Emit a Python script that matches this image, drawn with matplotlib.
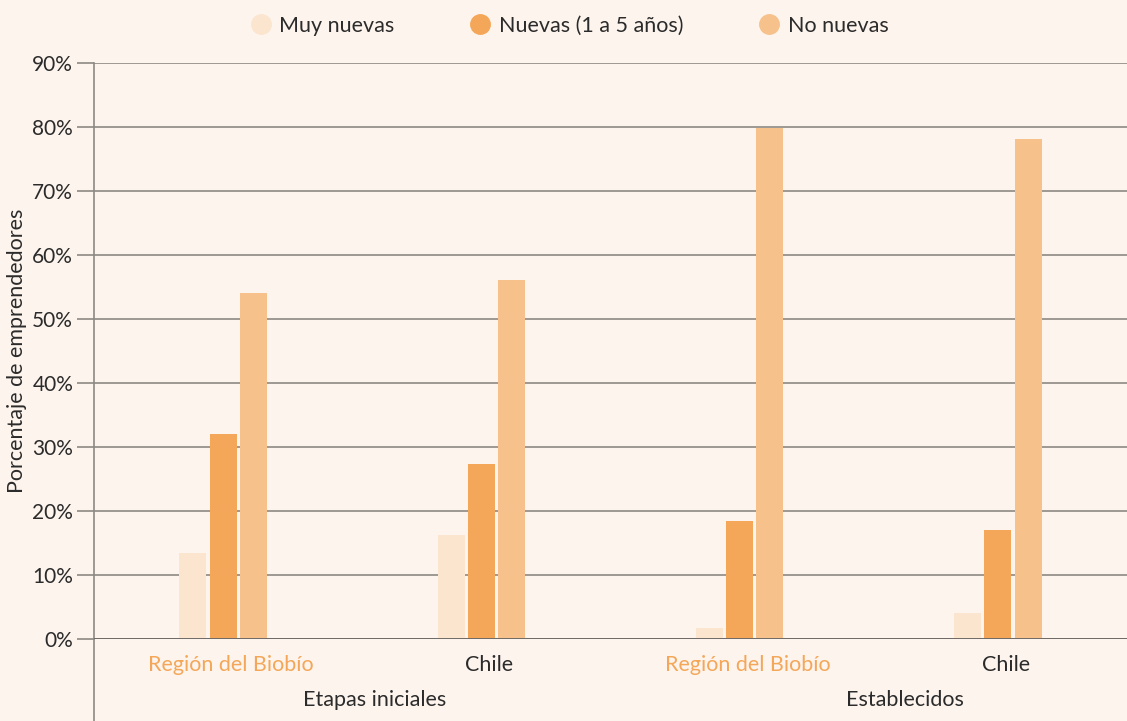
import numpy as np
import matplotlib.pyplot as plt
from matplotlib.lines import Line2D

plt.rcParams['font.family'] = ['Lato', 'DejaVu Sans']

# data
places = ["Región del Biobío", "Chile", "Región del Biobío", "Chile"]
stages = ["Etapas iniciales", "Establecidos"]
series = ["Muy nuevas", "Nuevas (1 a 5 años)", "No nuevas"]
muy_nuevas = [13.4, 16.3, 1.7, 4.1]
nuevas = [32.0, 27.3, 18.4, 17.0]
no_nuevas = [54.1, 56.1, 79.8, 78.1]

bg = "#FDF4EE"
colors = ["#FCE5CE", "#F4A758", "#F7C18B"]
label_colors = ["#F4A758", "#2b2b2b", "#F4A758", "#2b2b2b"]
grid_c = "#8e8884"
text_c = "#2b2b2b"

fig = plt.figure(figsize=(11.27, 7.21), dpi=100, facecolor=bg)
ax = fig.add_axes([94 / 1127, (721 - 639) / 721, 1 - 94 / 1127, (639 - 63) / 721])
ax.set_facecolor(bg)

x = np.arange(len(places))
w = 0.105
off = 0.117
for i, vals in enumerate([muy_nuevas, nuevas, no_nuevas]):
    ax.bar(x + (i - 1) * off, vals, width=w, color=colors[i], zorder=3, label=series[i])

ax.set_xlim(-0.5, 3.5)
ax.set_ylim(0, 90)
ax.set_yticks(np.arange(0, 91, 10))
ax.set_yticklabels([f"{v}%" for v in range(0, 91, 10)], fontsize=15, color=text_c)
ax.grid(axis='y', color=grid_c, lw=1.2, zorder=1)
ax.tick_params(axis='y', length=12, color=grid_c, width=1.2, pad=3)
ax.tick_params(axis='x', length=0)
ax.set_xticks([])
for s in ['top', 'right', 'bottom']:
    ax.spines[s].set_visible(False)
ax.spines['left'].set_color(grid_c)
ax.spines['left'].set_linewidth(1.2)
ax.axhline(0, color="#6f6a66", lw=1.4, zorder=4)

# y-axis line extending below the plot
ax.add_line(Line2D([0, 0], [0, -0.15], transform=ax.transAxes, color=grid_c,
                   lw=1.2, clip_on=False))

# category labels
for xi, lab, c in zip(x, places, label_colors):
    ax.text(xi + 0.03, -0.045, lab, transform=ax.get_xaxis_transform(), ha='center',
            va='center', fontsize=15.5, color=c)
stage_x = [0.585, 2.64]
for sx, lab in zip(stage_x, stages):
    ax.text(sx, -0.106, lab, transform=ax.get_xaxis_transform(), ha='center',
            va='center', fontsize=15.5, color=text_c)

ax.set_ylabel("Porcentaje de emprendedores", fontsize=15.5, color=text_c, labelpad=4)

leg = fig.legend(
    handles=[Line2D([], [], marker='o', ls='', markersize=14, color=c) for c in colors],
    labels=series, loc='center', bbox_to_anchor=(0.504, 1 - 26 / 721), ncol=3,
    frameon=False, fontsize=15.5, handletextpad=0.25, columnspacing=3.4,
    handlelength=1.2)
for t in leg.get_texts():
    t.set_color(text_c)

fig.savefig("out.png", dpi=100, facecolor=bg)
